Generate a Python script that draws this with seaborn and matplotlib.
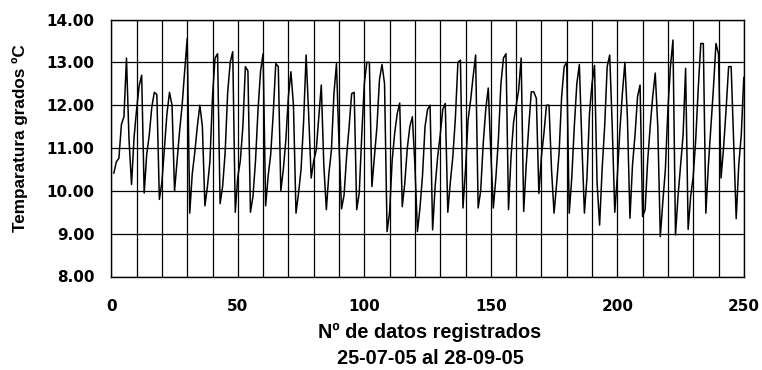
import numpy as np
import pandas as pd
import matplotlib
matplotlib.use("Agg")
import matplotlib.pyplot as plt
import seaborn as sns

# Temperatura registrada (ºC), en bloques de 50 registros
temp_001_050 = [10.41, 10.68, 10.76, 11.55, 11.73, 13.10, 11.20, 10.15, 11.25, 11.90,
                12.45, 12.70, 9.95, 10.85, 11.30, 11.95, 12.30, 12.25, 9.80, 10.20,
                11.00, 11.80, 12.30, 12.00, 10.00, 10.70, 11.40, 12.00, 12.80, 13.56,
                9.48, 10.40, 10.90, 11.50, 12.00, 11.50, 9.65, 10.10, 10.70, 12.20,
                13.10, 13.20, 9.70, 10.10, 10.90, 12.30, 13.00, 13.25, 9.50, 10.33]
temp_051_100 = [10.70, 11.50, 12.90, 12.80, 9.50, 9.87, 10.70, 11.90, 12.80, 13.20,
                9.65, 10.35, 10.85, 11.80, 12.97, 12.90, 10.00, 10.50, 11.20, 12.20,
                12.78, 12.00, 9.48, 9.94, 10.50, 11.60, 13.17, 11.80, 10.30, 10.70,
                10.95, 11.70, 12.47, 10.60, 9.56, 10.40, 10.95, 12.27, 12.97, 11.10,
                9.58, 9.90, 10.80, 11.50, 12.27, 12.30, 9.56, 9.95, 11.30, 12.50]
temp_101_150 = [13.00, 13.00, 10.10, 10.80, 11.50, 12.60, 12.95, 12.50, 9.05, 9.50,
                10.70, 11.34, 11.80, 12.05, 9.63, 10.18, 11.00, 11.50, 11.73, 10.60,
                9.05, 9.60, 10.35, 11.50, 11.90, 12.00, 9.09, 10.10, 10.80, 11.30,
                11.90, 12.04, 9.50, 10.20, 10.80, 11.70, 13.00, 13.05, 9.60, 10.50,
                11.65, 12.10, 12.66, 13.17, 9.60, 10.00, 11.10, 11.90, 12.40, 10.90]
temp_151_200 = [9.60, 10.30, 11.20, 12.50, 13.10, 13.20, 9.56, 10.80, 11.60, 11.97,
                12.35, 13.10, 9.52, 10.60, 11.50, 12.31, 12.31, 12.16, 9.94, 10.80,
                11.34, 12.00, 12.00, 10.50, 9.48, 10.15, 10.90, 12.20, 12.90, 13.00,
                9.48, 10.30, 11.50, 12.50, 12.95, 11.10, 9.48, 10.30, 11.80, 12.50,
                12.93, 10.20, 9.20, 10.50, 11.50, 12.90, 13.17, 11.50, 9.50, 10.33]
temp_201_250 = [11.40, 12.27, 13.00, 11.70, 9.36, 10.60, 11.30, 12.20, 12.47, 9.40,
                9.56, 10.70, 11.50, 12.20, 12.75, 11.50, 8.93, 9.75, 10.50, 11.90,
                12.90, 13.52, 8.97, 9.87, 10.60, 11.30, 12.86, 9.10, 9.87, 10.33,
                11.20, 12.40, 13.44, 13.44, 9.48, 10.60, 11.50, 12.40, 13.44, 13.20,
                10.30, 11.00, 11.90, 12.90, 12.90, 11.10, 9.35, 10.60, 11.30, 12.65]

y_ticks = [8, 9, 10, 11, 12, 13, 14]
x_ticks = [0, 50, 100, 150, 200, 250]

temperatura = temp_001_050 + temp_051_100 + temp_101_150 + temp_151_200 + temp_201_250
df = pd.DataFrame({"registro": np.arange(1, len(temperatura) + 1),
                   "temperatura": temperatura})

sns.set_style("white")
plt.rcParams["font.family"] = ["DejaVu Sans"]
plt.rcParams["text.color"] = "black"
plt.rcParams["xtick.color"] = "black"
plt.rcParams["ytick.color"] = "black"
plt.rcParams["axes.labelcolor"] = "black"

W, H = 762, 370
fig = plt.figure(figsize=(W / 100, H / 100), dpi=100)
left, right, top, bottom = 111.3, 743.8, 19.5, 276.5
ax = fig.add_axes([left / W, 1 - bottom / H, (right - left) / W, (bottom - top) / H])

sns.lineplot(data=df, x="registro", y="temperatura", ax=ax,
             color="black", linewidth=1.1, zorder=3)

ax.set_xlim(0, 250)
ax.set_ylim(8, 14)
ax.set_xticks(x_ticks)
ax.set_xticks(np.arange(0, 251, 10), minor=True)
ax.set_yticks(y_ticks)
tick_font = dict(fontsize=11, fontweight="bold", family="DejaVu Sans", color="black")
ax.set_xticklabels([str(t) for t in x_ticks], **tick_font)
ax.set_yticklabels([f"{t:.2f}" for t in y_ticks], **tick_font)

ax.grid(True, which="both", axis="x", color="black", linewidth=0.9)
ax.grid(True, which="major", axis="y", color="black", linewidth=0.9)
ax.set_axisbelow(True)

for s in ax.spines.values():
    s.set_color("black")
    s.set_linewidth(1.0)

ax.tick_params(axis="x", which="minor", length=0)
ax.tick_params(axis="x", which="major", direction="out", length=4, width=1,
               color="black", labelcolor="black", pad=12)
ax.tick_params(axis="y", which="major", direction="out", length=4, width=1,
               color="black", labelcolor="black", pad=8)

ax.set_xlabel("")
ax.set_ylabel("")
label_font = dict(fontweight="bold", family="Liberation Sans", color="black")
fig.text(430 / W, 1 - 332 / H, "Nº de datos registrados", ha="center", va="center",
         fontsize=14.3, **label_font)
fig.text(430 / W, 1 - 358 / H, "25-07-05 al 28-09-05", ha="center", va="center",
         fontsize=14.3, **label_font)
fig.text(20 / W, 1 - 138 / H, "Temparatura grados ºC", ha="center", va="center",
         rotation=90, fontsize=12.3, **label_font)

fig.savefig("out.png", dpi=100, facecolor="white")
